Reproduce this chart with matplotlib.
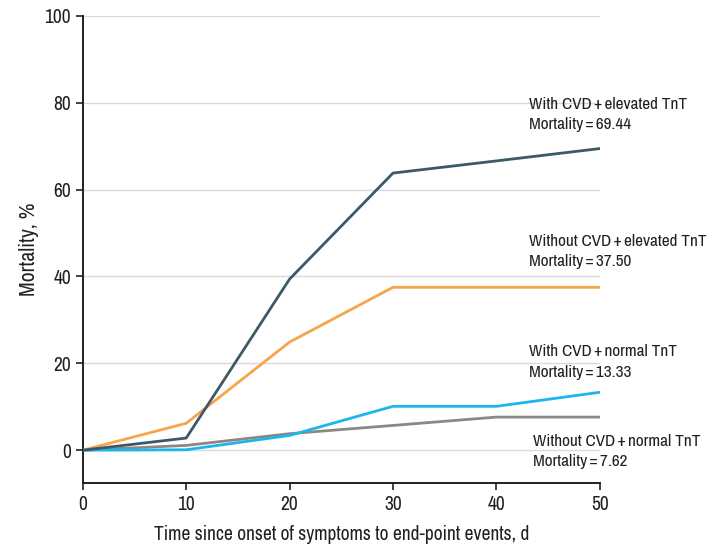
import matplotlib
matplotlib.use('Agg')
import matplotlib.pyplot as plt
from matplotlib import font_manager

# Days since symptom onset
days = [0, 10, 20, 30, 40, 50]

# Mortality (%) per group
cvd_elev = [0, 2.8, 39.4, 63.8, 66.6, 69.44]
nocvd_elev = [0, 6.2, 24.9, 37.5, 37.5, 37.5]
cvd_norm = [0, 0.1, 3.4, 10.1, 10.1, 13.33]
nocvd_norm = [0, 1.1, 3.8, 5.7, 7.62, 7.62]

labels = [
    ('With CVD\u2009+\u2009elevated TnT\nMortality\u2009=\u200969.44', 43.2, 77.3),
    ('Without CVD\u2009+\u2009elevated TnT\nMortality\u2009=\u200937.50', 43.2, 45.7),
    ('With CVD\u2009+\u2009normal TnT\nMortality\u2009=\u200913.33', 43.2, 20.3),
    ('Without CVD\u2009+\u2009normal TnT\nMortality\u2009=\u20097.62', 43.5, -0.3),
]

# look for a condensed sans face, else fall back to Liberation Sans
names = sorted({f.name for f in font_manager.fontManager.ttflist})
cond = [n for n in names if ('Condensed' in n or 'Narrow' in n)
        and 'Mono' not in n and 'Serif' not in n and 'Extra' not in n
        and 'Semi' not in n]
if cond:
    FAMILY = cond[0]
    SCALE = 1.0
else:
    FAMILY = 'Liberation Sans'
    SCALE = 0.88

TXT = '#231f20'
plt.rcParams['font.family'] = [FAMILY, 'DejaVu Sans']

fig = plt.figure(figsize=(7.14, 5.46), dpi=100)
ax = fig.add_axes([0.116, 0.115, 0.724, 0.856])

for yv in [0, 20, 40, 60, 80, 100]:
    ax.axhline(yv, color='#d9d9d9', linewidth=1, zorder=0)

ax.plot(days, nocvd_norm, color='#8d8781', linewidth=2, zorder=2)
ax.plot(days, cvd_norm, color='#1cb5ec', linewidth=2, zorder=3)
ax.plot(days, nocvd_elev, color='#f7a54b', linewidth=2, zorder=3)
ax.plot(days, cvd_elev, color='#3d5966', linewidth=2, zorder=4)

for txt, x, y in labels:
    ax.text(x, y, txt, fontsize=12.4 * SCALE, color=TXT, va='center', ha='left',
            linespacing=1.45, clip_on=False, fontweight='medium')

ax.set_xlim(0, 50)
ax.set_ylim(-7.6, 100)
ax.set_xticks([0, 10, 20, 30, 40, 50])
ax.set_yticks([0, 20, 40, 60, 80, 100])
ax.tick_params(labelsize=14 * SCALE, colors=TXT, length=5, width=1.2, direction='out')
for lab in ax.get_xticklabels() + ax.get_yticklabels():
    lab.set_fontweight('medium')

for s in ['top', 'right']:
    ax.spines[s].set_visible(False)
for s in ['left', 'bottom']:
    ax.spines[s].set_linewidth(1.4)
    ax.spines[s].set_color(TXT)

ax.set_xlabel('Time since onset of symptoms to end-point events, d', fontsize=14 * SCALE,
              color=TXT, labelpad=8, fontweight='medium')
ax.set_ylabel('Mortality, %', fontsize=15.5 * SCALE, color=TXT, labelpad=4,
              fontweight='medium')

fig.savefig('out.png', dpi=100)
